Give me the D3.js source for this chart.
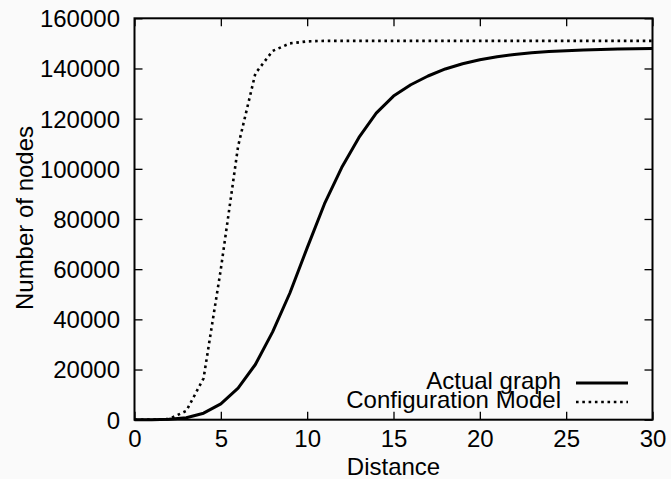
<!DOCTYPE html>
<html>
<head>
<meta charset="utf-8">
<script src="https://cdn.jsdelivr.net/npm/d3@7"></script>
<style>
  body { margin: 0; background: #fafafa; }
  text { font-family: "Liberation Sans", Arial, sans-serif; }
</style>
</head>
<body>
<div id="viz"></div>
<script>
// data
var distance = [0,1,2,3,4,5,6,7,8,9,10,11,12,13,14,15,16,17,18,19,20,21,22,23,24,25,26,27,28,29,30]
var actualGraph = [0,20,150,800,2600,6300,12600,22000,35000,50500,68500,86000,100500,112500,122200,129000,
  133500,137000,139800,141900,143500,144700,145600,146300,146800,147100,147400,147600,147750,147850,147950]
var configModel = [0,20,300,3500,16500,60000,109000,138000,147000,150000,150800,151000,151000,151000,151000,151000,
  151000,151000,151000,151000,151000,151000,151000,151000,151000,151000,151000,151000,151000,151000,151000]
var xTicks = [0,5,10,15,20,25,30]
var yTicks = [0,20000,40000,60000,80000,100000,120000,140000,160000]

var width = 671, height = 479
var plot = {left: 134.5, right: 652.5, top: 18.3, bottom: 419.7}

var svg = d3.select("#viz").append("svg")
  .attr("width", width)
  .attr("height", height)

svg.append("rect")
  .attr("width", width).attr("height", height)
  .attr("fill", "#fafafa")

// step 1 : scales ----
var xScale = d3.scaleLinear()
  .domain([0, 30])
  .range([plot.left, plot.right])

var yScale = d3.scaleLinear()
  .domain([0, 160000])
  .range([plot.bottom, plot.top])

// step 2 : axes (gnuplot style, ticks inward and mirrored) ----
var tickLen = 8
var fontSize = 24

var x_axis = d3.axisBottom(xScale).tickValues(xTicks).tickFormat(d3.format("d"))
  .tickSizeInner(-tickLen).tickSizeOuter(0).tickPadding(0)
var y_axis = d3.axisLeft(yScale).tickValues(yTicks).tickFormat(d3.format("d"))
  .tickSizeInner(-tickLen).tickSizeOuter(0).tickPadding(0)

var gx = svg.append("g")
  .attr("transform", "translate(0," + plot.bottom + ")")
  .call(x_axis)
var gy = svg.append("g")
  .attr("transform", "translate(" + plot.left + ",0)")
  .call(y_axis)

svg.append("g")
  .attr("transform", "translate(0," + plot.top + ")")
  .call(d3.axisTop(xScale).tickValues(xTicks).tickSizeInner(-tickLen).tickSizeOuter(0).tickFormat(""))
svg.append("g")
  .attr("transform", "translate(" + plot.right + ",0)")
  .call(d3.axisRight(yScale).tickValues(yTicks).tickSizeInner(-tickLen).tickSizeOuter(0).tickFormat(""))

svg.selectAll(".domain").remove()
svg.selectAll(".tick line").attr("stroke", "#000").attr("stroke-width", 1.3)

gx.selectAll("text")
  .attr("y", 27)
  .attr("dy", 0)
  .style("font-size", fontSize + "px")
  .attr("fill", "#000")
gy.selectAll("text")
  .attr("x", -14.5)
  .attr("dy", "0.35em")
  .style("font-size", fontSize + "px")
  .attr("fill", "#000")

// border
svg.append("rect")
  .attr("x", plot.left).attr("y", plot.top)
  .attr("width", plot.right - plot.left)
  .attr("height", plot.bottom - plot.top)
  .attr("fill", "none")
  .attr("stroke", "#000")
  .attr("stroke-width", 2)

// step 3 : lines ----
var line = function(values) {
  return d3.line()
    .x(function(d, i) { return xScale(distance[i]) })
    .y(function(d) { return yScale(d) })(values)
}

svg.append("path")
  .attr("d", line(configModel))
  .attr("fill", "none")
  .attr("stroke", "#000")
  .attr("stroke-width", 2.6)
  .attr("stroke-dasharray", "2.6,3.7")

svg.append("path")
  .attr("d", line(actualGraph))
  .attr("fill", "none")
  .attr("stroke", "#000")
  .attr("stroke-width", 3)
  .attr("stroke-linejoin", "round")

// step 4 : legend ----
var legend = [
  {label: "Actual graph", dash: null, y: 389},
  {label: "Configuration Model", dash: "2.6,3.7", y: 408}
]
legend.forEach(function(d) {
  svg.append("text")
    .attr("x", 561)
    .attr("y", d.y)
    .attr("text-anchor", "end")
    .style("font-size", fontSize + "px")
    .text(d.label)
  svg.append("line")
    .attr("x1", 576).attr("x2", 628)
    .attr("y1", d.y - 6).attr("y2", d.y - 6)
    .attr("stroke", "#000")
    .attr("stroke-width", d.dash ? 2.6 : 3)
    .attr("stroke-dasharray", d.dash)
})

// step 5 : axis labels ----
svg.append("text")
  .attr("x", (plot.left + plot.right) / 2)
  .attr("y", 475)
  .attr("text-anchor", "middle")
  .style("font-size", fontSize + "px")
  .text("Distance")

svg.append("text")
  .attr("transform", "translate(33,218) rotate(-90)")
  .attr("text-anchor", "middle")
  .style("font-size", fontSize + "px")
  .text("Number of nodes")
</script>
</body>
</html>
